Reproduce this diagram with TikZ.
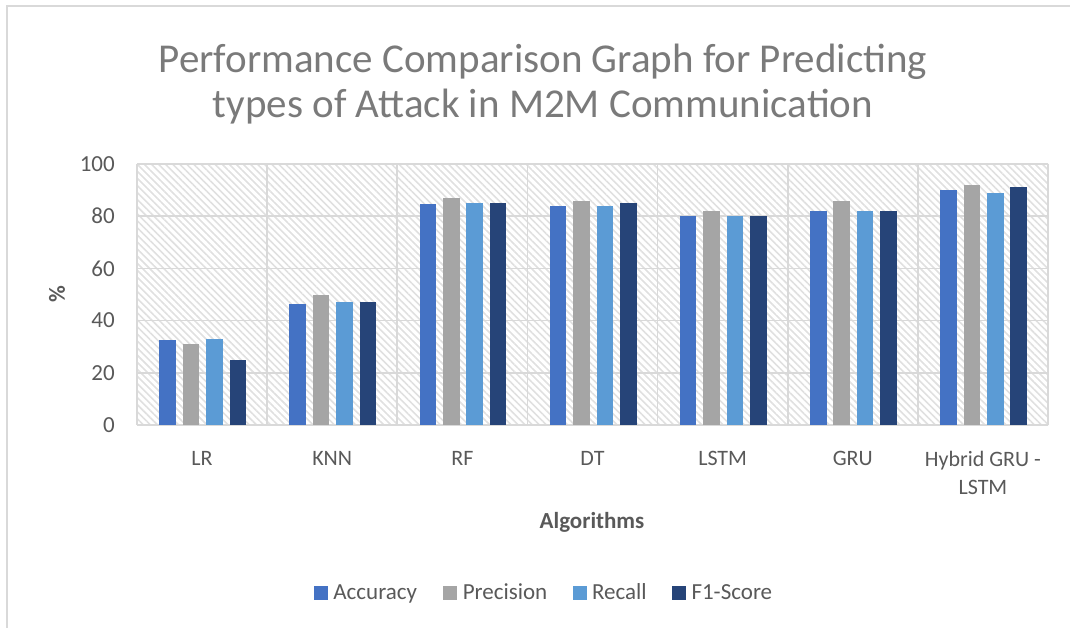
\documentclass[tikz,border=0pt]{standalone}
\usepackage{fontspec}
\setmainfont{Carlito}
\usepackage{xcolor}
\usetikzlibrary{positioning,patterns.meta}
\definecolor{acc}{HTML}{4472C4}
\definecolor{prec}{HTML}{A5A5A5}
\definecolor{rec}{HTML}{5B9BD5}
\definecolor{fone}{HTML}{264478}
\definecolor{txt}{HTML}{595959}
\definecolor{ttlgray}{HTML}{7A7A7A}
\definecolor{grd}{HTML}{D9D9D9}
\definecolor{hatch}{HTML}{E0E0E0}

\begin{document}
\begin{tikzpicture}[x=1pt, y=-1pt,
  tick/.style={font=\fontsize{23}{28}\selectfont, text=txt, inner sep=0pt},
  cat/.style={font=\fontsize{22}{28}\selectfont, text=txt, align=center, inner sep=0pt},
  axlbl/.style={font=\fontsize{23}{28}\selectfont\bfseries, text=txt, inner sep=0pt},
  ttl/.style={font=\fontsize{41}{45}\selectfont, text=ttlgray, inner sep=0pt, anchor=base},
  key/.style={minimum size=14pt, inner sep=0pt},
  lgd/.style={font=\fontsize{23}{28}\selectfont, text=txt, inner sep=0pt,
    text height=13pt, text depth=0pt}]
  \useasboundingbox (0,0) rectangle (1070,628);
  \draw[grd, line width=2pt] (7,628) -- (7,6) -- (1070,6);

  \node[ttl] (T1) at (543,73) {Performance Comparison Graph for Predicting};
  \node[ttl] (T2) at (543,118) {types of Attack in M2M Communication};

  \fill[pattern={Lines[angle=-45, distance=5pt, line width=1.6pt]}, pattern color=hatch]
    (137,164) rectangle (1048,425);
  \foreach \v in {0,20,...,100} {
    \draw[grd, line width=1.6pt] (137,425-2.61*\v) -- (1048,425-2.61*\v);
    \node[tick, anchor=east] (y\v) at (115,425-2.61*\v) {\v};
  }
  \foreach \i in {0,...,7}
    \draw[grd, line width=1.6pt] (137+130.14*\i,164) -- (137+130.14*\i,425);

  \foreach \n/\a/\p/\r/\f [count=\i from 0] in {
      LR/32.5/31/33/25, KNN/46.5/50/47/47, RF/84.6/87/85/85, DT/84/86/84/85,
      LSTM/80/82/80/80, GRU/82/86/82/82, {Hybrid GRU -\\LSTM}/90/92/89/91} {
    \pgfmathsetmacro\x{137+130.14*\i}
    \foreach \v/\c [count=\j from 0] in {\a/acc, \p/prec, \r/rec, \f/fone}
      \fill[\c] (\x+22.3+23.4*\j,425) rectangle ++(16.6,-2.61*\v);
    \node[cat, anchor=north] (c\i) at (\x+65.07,451) {\n};
  }

  \node[axlbl, rotate=90] (Y) at (57,294) {\%};
  \node[axlbl] (X) at (592,522) {Algorithms};

  \node[key, fill=acc] (k1) at (321,593) {};
  \node[lgd, right=5pt of k1] (l1) {Accuracy};
  \node[key, fill=prec, right=26pt of l1] (k2) {};
  \node[lgd, right=5pt of k2] (l2) {Precision};
  \node[key, fill=rec, right=25pt of l2] (k3) {};
  \node[lgd, right=5pt of k3] (l3) {Recall};
  \node[key, fill=fone, right=25pt of l3] (k4) {};
  \node[lgd, right=5pt of k4] (l4) {F1-Score};
\end{tikzpicture}
\end{document}
